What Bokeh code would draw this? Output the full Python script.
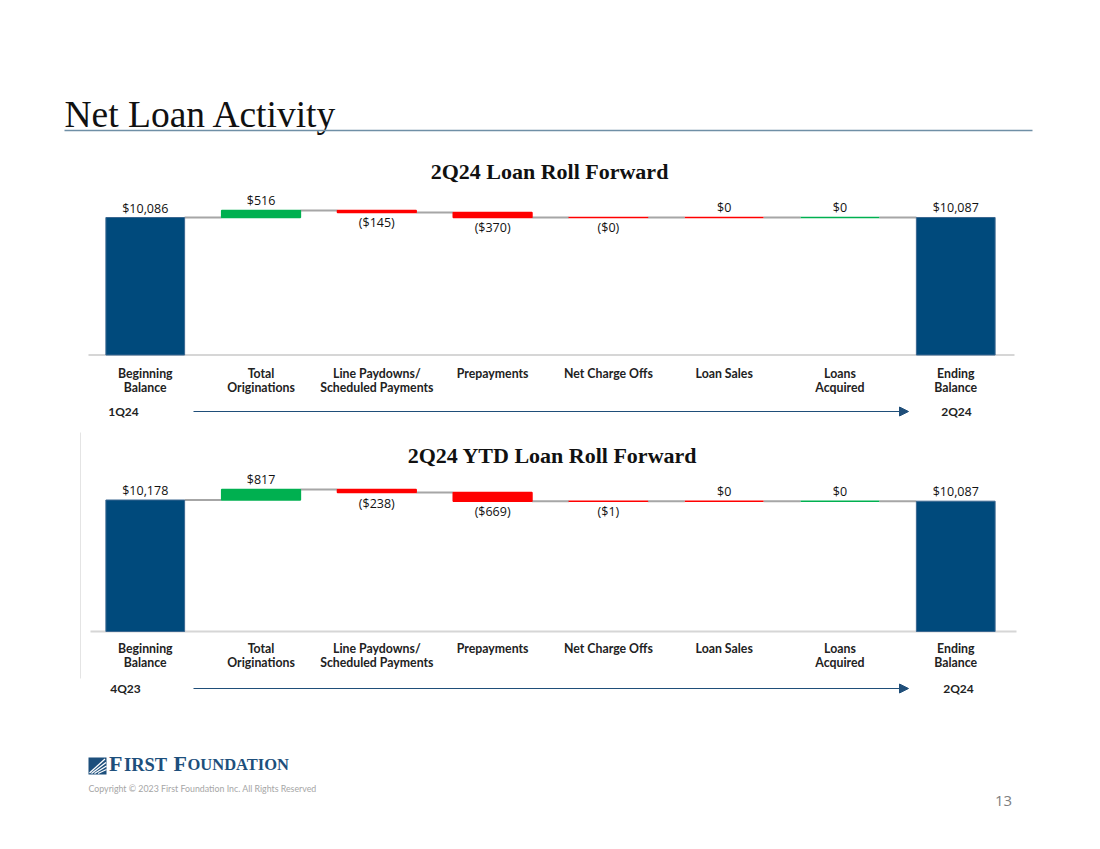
from bokeh.plotting import figure
from bokeh.models import FactorRange, Range1d, ColumnDataSource, Arrow, NormalHead
from bokeh.transform import dodge
from bokeh.core.properties import value
from bokeh.embed import file_html
from bokeh.resources import INLINE

# ---------------- data ----------------
categories = ["Beginning Balance", "Total Originations", "Line Paydowns/Scheduled Payments",
              "Prepayments", "Net Charge Offs", "Loan Sales", "Loans Acquired", "Ending Balance"]
category_labels = ["Beginning\nBalance", "Total\nOriginations", "Line Paydowns/\nScheduled Payments",
                   "Prepayments", "Net Charge Offs", "Loan Sales", "Loans\nAcquired", "Ending\nBalance"]

qtr_title = "2Q24 Loan Roll Forward"
qtr_begin = 10086
qtr_changes = [516, -145, -370, -0.2, 0, 0]
qtr_end = 10087
qtr_periods = ["1Q24", "2Q24"]

ytd_title = "2Q24 YTD Loan Roll Forward"
ytd_begin = 10178
ytd_changes = [817, -238, -669, -1, 0, 0]
ytd_end = 10087
ytd_periods = ["4Q23", "2Q24"]

# ---------------- style ----------------
NAVY = "#004a7c"
GREEN = "#00b050"
RED = "#ff0000"
change_colors = [GREEN, RED, RED, RED, RED, GREEN]
SANS = "Open Sans"
SERIF = "Liberation Serif"
BAR_W = 0.68

W, H = 1100, 833
spacing = (956.5 - 146) / 7.0
pad = W / spacing - len(categories)   # total padding (both sides)


def X(px):
    # screen pixel -> synthetic coordinate of the categorical x scale
    return -pad / 2 + px / spacing


p = figure(width=W, height=H, output_backend="svg", toolbar_location=None,
           x_range=FactorRange(*categories, range_padding=pad / 2, range_padding_units="absolute"),
           y_range=Range1d(H, 0), x_axis_type=None, y_axis_type=None, min_border=0)
p.outline_line_color = None
p.grid.visible = False
p.background_fill_color = "white"
p.border_fill_color = "white"


def fmt(v):
    if v < 0:
        return "(${:,.0f})".format(abs(v))
    return "${:,.0f}".format(v)


def chart(name, title, begin, changes, end, periods, base_y, ref_px, title_y, lab_y, per_y, xoff):
    ppu = ref_px / begin
    p.extra_y_ranges[name] = Range1d((base_y - H) / ppu, base_y / ppu)

    # baseline
    p.segment(x0=[X(88 + xoff)], x1=[X(1014 + xoff)], y0=[0], y1=[0],
              y_range_name=name, line_color="#d6d6d6", line_width=2)

    # running levels
    bottoms, tops, levels = [], [], [begin]
    lvl = begin
    for c in changes:
        bottoms.append(min(lvl, lvl + c))
        tops.append(max(lvl, lvl + c))
        lvl += c
        levels.append(lvl)

    # connectors
    con = ColumnDataSource(dict(a=categories[:-1], b=categories[1:], y=levels))
    p.segment(x0=dodge("a", BAR_W / 2, range=p.x_range), x1=dodge("b", -BAR_W / 2, range=p.x_range),
              y0="y", y1="y", source=con, y_range_name=name, line_color="#a6a6a6", line_width=2)

    # totals
    tot = ColumnDataSource(dict(x=[categories[0], categories[-1]], top=[begin, end]))
    p.vbar(x="x", top="top", bottom=0, width=BAR_W, source=tot, y_range_name=name,
           fill_color=NAVY, line_color="#3a6790", line_width=1)

    # changes
    chg = ColumnDataSource(dict(x=categories[1:-1], top=tops, bottom=bottoms, c=change_colors))
    p.vbar(x="x", top="top", bottom="bottom", width=BAR_W, source=chg, y_range_name=name,
           fill_color="c", line_color="c", line_width=1.5)

    # value labels
    up_x, up_y, up_t, dn_x, dn_y, dn_t = [], [], [], [], [], []
    for cat, v in ((categories[0], begin), (categories[-1], end)):
        up_x.append(cat); up_y.append(v); up_t.append(fmt(v))
    for cat, c, t, b in zip(categories[1:-1], changes, tops, bottoms):
        if c >= 0:
            up_x.append(cat); up_y.append(t); up_t.append(fmt(c))
        else:
            dn_x.append(cat); dn_y.append(b); dn_t.append(fmt(c))
    p.text(x=up_x, y=up_y, text=up_t, y_range_name=name, text_align="center",
           text_baseline="bottom", y_offset=-1, text_font=value(SANS), text_font_size="12.5px",
           text_color="#111111")
    p.text(x=dn_x, y=dn_y, text=dn_t, y_range_name=name, text_align="center",
           text_baseline="top", y_offset=2, text_font=value(SANS), text_font_size="12.5px",
           text_color="#111111")

    # title
    p.text(x=[X(549 + xoff * 1.5)], y=[title_y], text=[title],
           text_align="center", text_baseline="middle", text_font=value(SERIF),
           text_font_style="bold", text_font_size="22px", text_color="#111111")

    # category labels
    p.text(x=categories, y=[lab_y] * len(categories), text=category_labels,
           text_align="center", text_baseline="top", text_line_height=0.94,
           text_font=value("Lato"), text_font_style="bold", text_font_size="12.3px",
           text_color="#222222")

    # period labels + arrow
    p.text(x=[X(123 + xoff), X(956 + xoff)], y=[per_y, per_y], text=periods,
           text_align="center", text_baseline="middle",
           text_font=value("Lato"), text_font_style="bold", text_font_size="12px",
           text_color="#222222")
    p.add_layout(Arrow(x_start=X(193), y_start=per_y, x_end=X(908), y_end=per_y,
                       line_color="#1f4e79", line_width=1.2,
                       end=NormalHead(size=9, fill_color="#1f4e79", line_color="#1f4e79")))


chart("q", qtr_title, qtr_begin, qtr_changes, qtr_end, qtr_periods,
      base_y=354.5, ref_px=137.5, title_y=171, lab_y=365.5, per_y=411, xoff=0)
chart("y", ytd_title, ytd_begin, ytd_changes, ytd_end, ytd_periods,
      base_y=631, ref_px=131.5, title_y=455, lab_y=640.5, per_y=688, xoff=2)

# ---------------- page decorations ----------------
p.text(x=[X(64)], y=[114], text=["Net Loan Activity"],
       text_align="left", text_baseline="middle", text_font=value(SERIF),
       text_font_size="37.5px", text_color="#111111")
p.segment(x0=[X(64)], x1=[X(1032)], y0=[130], y1=[130],
          line_color="#6f8fa6", line_width=1.5)
p.segment(x0=[X(80)], x1=[X(80)], y0=[432], y1=[678],
          line_color="#e4e4e4", line_width=1)

# logo
LOGO = "#1d4f7c"
p.quad(left=[X(88)], right=[X(106)], top=[757], bottom=[774],
       fill_color=LOGO, line_color=None)
p.segment(x0=[X(89), X(91), X(94), X(97.5)], y0=[772.5, 773, 773, 773],
          x1=[X(104.5), X(105.5), X(106), X(106)], y1=[758.5, 762, 765.5, 769],
          line_color="white", line_width=1.3)
for xx, yy, txt, sz in ((108.5, 762.6, "F", "22px"), (123.5, 764.3, "IRST", "18.5px"),
                        (173, 762.6, "F", "22px"), (187, 764.3, "OUNDATION", "16.5px")):
    p.text(x=[X(xx)], y=[yy], text=[txt],
           text_align="left", text_baseline="middle", text_font=value(SERIF),
           text_font_style="bold", text_font_size=sz, text_color=LOGO)
p.text(x=[X(88)], y=[788], text=["Copyright \u00a9 2023 First Foundation Inc. All Rights Reserved"],
       text_align="left", text_baseline="middle",
       text_font=value("Lato"), text_font_size="8.8px", text_color="#a6a6a6")
p.text(x=[X(1003)], y=[800], text=["13"],
       text_align="center", text_baseline="middle", text_font=value(SANS),
       text_font_size="15px", text_color="#808080")

open("out.html", "w").write(file_html(p, INLINE))
